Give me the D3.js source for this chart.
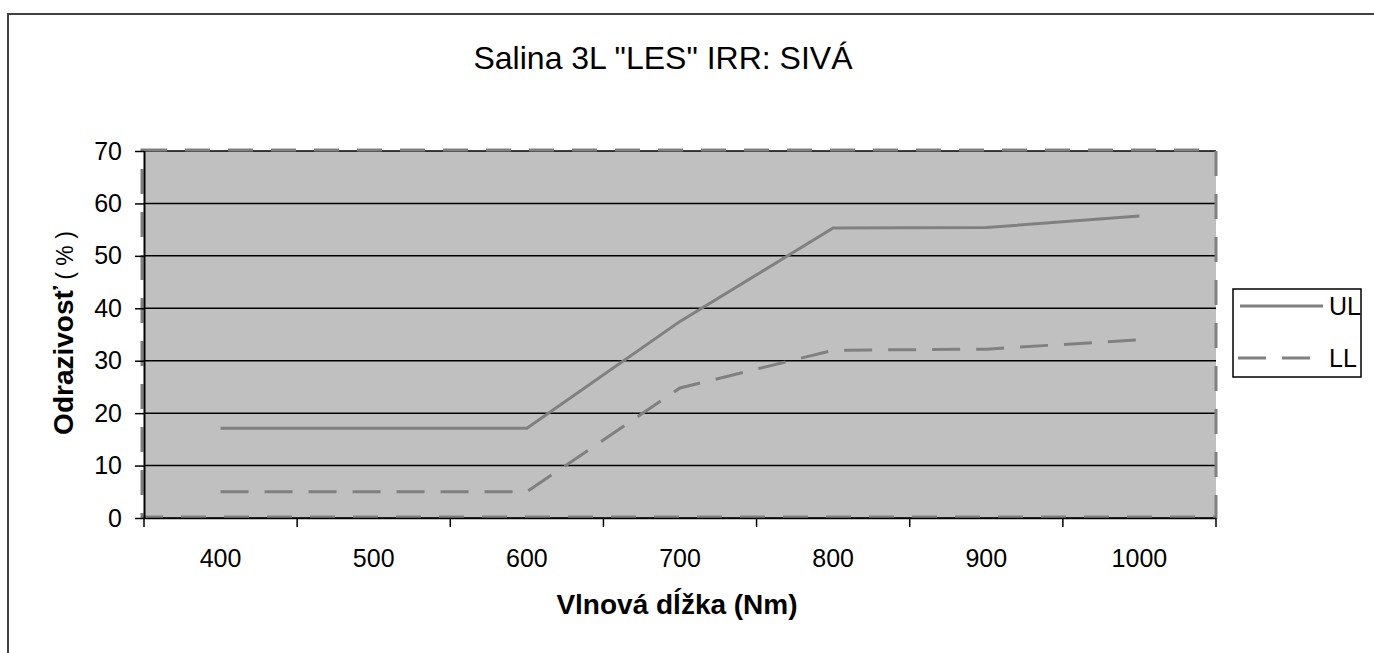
<!DOCTYPE html>
<html>
<head>
<meta charset="utf-8">
<script src="https://cdn.jsdelivr.net/npm/d3@7"></script>
<style>
  body { margin: 0; background: #fff; }
  text { font-family: Arial, "Liberation Sans", sans-serif; fill: #000; }
</style>
</head>
<body>
<div id="chart"></div>
<script>
// Data
var categories = ["400", "500", "600", "700", "800", "900", "1000"];
var ulValues = [17.1, 17.1, 17.1, 37.5, 55.3, 55.4, 57.6];
var llValues = [5.0, 5.0, 5.0, 24.8, 32.0, 32.2, 34.0];
var yTicks = [0, 10, 20, 30, 40, 50, 60, 70];
var seriesNames = ["UL", "LL"];

// Plot area
var margin = { top: 151, left: 144 };
var width = 1216 - 144;
var height = 518 - 151;

var svg = d3.select("#chart")
    .append("svg")
    .attr("width", 1374)
    .attr("height", 653);

// Chart area border (runs off the right and bottom)
svg.append("rect")
    .attr("x", 8).attr("y", 14)
    .attr("width", 1400).attr("height", 700)
    .attr("fill", "#fff")
    .attr("stroke", "#404040")
    .attr("stroke-width", 2);

// Title
svg.append("text")
    .attr("x", 663).attr("y", 69)
    .attr("text-anchor", "middle")
    .style("font-size", "32px")
    .text("Salina 3L \"LES\" IRR: SIVÁ");

var g = svg.append("g")
    .attr("transform", "translate(" + margin.left + "," + margin.top + ")");

// Scales
var x = d3.scaleBand().domain(categories).range([0, width]).padding(0);
var y = d3.scaleLinear().domain([0, 70]).range([height, 0]);

// Plot background
g.append("rect")
    .attr("width", width).attr("height", height)
    .attr("fill", "#c0c0c0");

// Gridlines
g.selectAll(".grid")
    .data(yTicks)
    .enter().append("line")
    .attr("x1", 0).attr("x2", width)
    .attr("y1", function (d) { return y(d); })
    .attr("y2", function (d) { return y(d); })
    .attr("stroke", "#000")
    .attr("stroke-width", 1.5);

// Dashed plot area border
g.append("rect")
    .attr("x", -2).attr("y", -1)
    .attr("width", width + 2).attr("height", height)
    .attr("fill", "none")
    .attr("stroke", "#808080")
    .attr("stroke-width", 3)
    .attr("stroke-dasharray", "25,18");

// Y axis (black line stays on top of the dashed border)
var yAxis = d3.axisLeft(y).tickValues(yTicks).tickSize(9).tickPadding(13);
var yg = g.append("g").call(yAxis);
yg.select(".domain").attr("stroke", "#000").attr("stroke-width", 2)
    .attr("d", "M0.5,0V" + height);
yg.selectAll(".tick line").attr("stroke", "#000").attr("stroke-width", 1.5);
yg.selectAll(".tick text")
    .style("font-size", "25px")
    .style("font-family", "Arial, 'Liberation Sans', sans-serif")
    .attr("fill", "#111");

// X axis: labels at band centres, ticks at band edges
var xAxis = d3.axisBottom(x).tickSize(0).tickPadding(31);
var xg = g.append("g")
    .attr("transform", "translate(0," + height + ")")
    .call(xAxis);
xg.select(".domain").attr("stroke", "#000").attr("stroke-width", 1.5)
    .attr("d", "M0,0.5H" + width);
xg.selectAll(".tick text")
    .style("font-size", "25px")
    .style("font-family", "Arial, 'Liberation Sans', sans-serif")
    .attr("fill", "#111");

var edges = categories.map(function (c) { return x(c); }).concat([width]);
xg.selectAll(".edge")
    .data(edges)
    .enter().append("line")
    .attr("x1", function (d) { return d; })
    .attr("x2", function (d) { return d; })
    .attr("y1", 0).attr("y2", 9)
    .attr("stroke", "#000")
    .attr("stroke-width", 1.5);

// Lines
var line = d3.line()
    .x(function (d, i) { return x(categories[i]) + x.bandwidth() / 2; })
    .y(function (d) { return y(d); });

g.append("path")
    .datum(ulValues)
    .attr("fill", "none")
    .attr("stroke", "#808080")
    .attr("stroke-width", 3)
    .attr("d", line);

g.append("path")
    .datum(llValues)
    .attr("fill", "none")
    .attr("stroke", "#808080")
    .attr("stroke-width", 3)
    .attr("stroke-dasharray", "28,16")
    .attr("d", line);

// Axis titles
svg.append("text")
    .attr("x", 677).attr("y", 614)
    .attr("text-anchor", "middle")
    .style("font-size", "28px")
    .style("font-weight", "bold")
    .text("Vlnová dĺžka (Nm)");

var yt = svg.append("text")
    .attr("transform", "translate(73,333) rotate(-90)")
    .attr("text-anchor", "middle")
    .style("font-size", "28px");
yt.append("tspan").style("font-weight", "bold").text("Odrazivosť");
yt.append("tspan").style("font-size", "23px").text(" ( % )");

// Legend
var legend = svg.append("g").attr("transform", "translate(1233,289)");
legend.append("rect")
    .attr("width", 128).attr("height", 88)
    .attr("fill", "#fff")
    .attr("stroke", "#000")
    .attr("stroke-width", 1.5);

var items = legend.selectAll(".item")
    .data(seriesNames)
    .enter().append("g")
    .attr("transform", function (d, i) { return "translate(0," + (17 + i * 52) + ")"; });

items.append("line")
    .attr("x1", function (d, i) { return i === 0 ? 7 : 5; })
    .attr("x2", function (d, i) { return i === 0 ? 90 : 85; })
    .attr("stroke", "#808080")
    .attr("stroke-width", 3)
    .attr("stroke-dasharray", function (d, i) { return i === 0 ? null : "28,16"; });

items.append("text")
    .attr("x", 96)
    .attr("dy", "0.35em")
    .style("font-size", "25px")
    .text(function (d) { return d; });
</script>
</body>
</html>
